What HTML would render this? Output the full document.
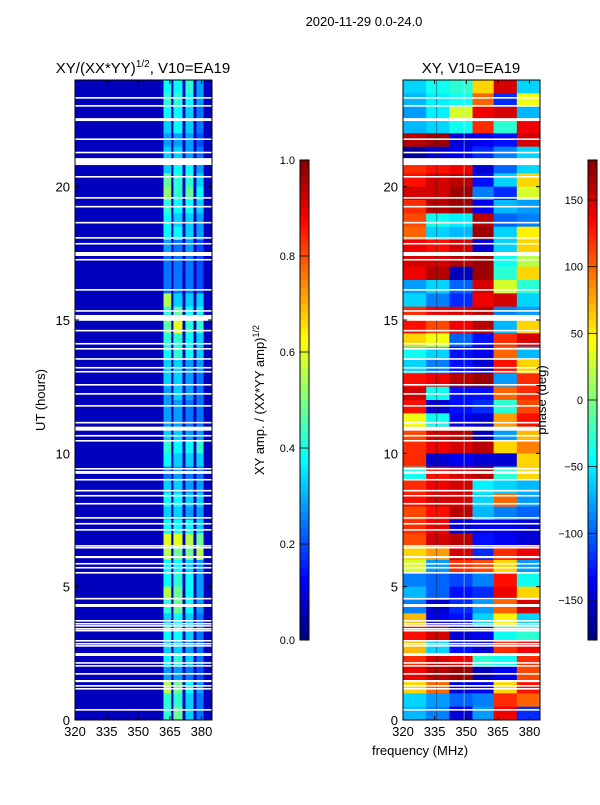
<!DOCTYPE html>
<html><head><meta charset="utf-8"><style>
body{margin:0;background:#fff;}
svg text{font-family:"Liberation Sans",sans-serif;}
</style></head><body>
<svg id="fig" width="600" height="800" xmlns="http://www.w3.org/2000/svg">
<text x="364" y="26" font-size="13" text-anchor="middle">2020-11-29 0.0-24.0</text>
<text x="143" y="73" font-size="15" text-anchor="middle">XY/(XX*YY)<tspan font-size="10" dy="-6">1/2</tspan><tspan dy="6">, V10=EA19</tspan></text>
<text x="471" y="73" font-size="15" text-anchor="middle">XY, V10=EA19</text>
<text transform="translate(45,400) rotate(-90)" font-size="13" text-anchor="middle">UT (hours)</text>
<text x="420" y="755" font-size="13" text-anchor="middle">frequency (MHz)</text>
<text transform="translate(264,400) rotate(-90)" font-size="13" text-anchor="middle">XY amp. / (XX*YY amp)<tspan font-size="9" dy="-5">1/2</tspan></text>
<g id="left"></g>
<g id="right"></g>
<g id="cb1"></g>
<g id="cb2"></g>
<text transform="translate(546,400) rotate(-90)" font-size="13" text-anchor="middle">phase (deg)</text>
</svg>
<script>
const freqMin=320, freqMax=385, utMin=0, utMax=24;
const xTicks=[320,335,350,365,380];
const yTicks=[0,5,10,15,20];
const ampTicks=[0.0,0.2,0.4,0.6,0.8,1.0];
const phaseTicks=[-150,-100,-50,0,50,100,150];
const ampBackground=0.06;
const ampStripEdges=[[362,365.7],[366.7,371],[372.4,376.2],[377.6,381]];
// amplitude per 0.5 h row, top (23.5-24 UT) downward, 4 strips
const ampRows=[
[0.38,0.38,0.42,0.28],[0.42,0.42,0.38,0.28],[0.38,0.38,0.33,0.24],[0.33,0.38,0.33,0.24],
[0.28,0.28,0.28,0.2],[0.33,0.33,0.28,0.24],[0.33,0.38,0.38,0.28],[0.47,0.42,0.42,0.33],
[0.52,0.42,0.47,0.38],[0.42,0.38,0.38,0.33],[0.38,0.33,0.33,0.28],[0.38,0.38,0.33,0.28],
[0.28,0.24,0.28,0.2],[0.24,0.24,0.24,0.2],[0.24,0.24,0.24,0.2],[0.24,0.24,0.24,0.2],
[0.55,0.33,0.33,0.33],[0.42,0.47,0.38,0.38],[0.47,0.6,0.42,0.42],[0.42,0.42,0.38,0.33],
[0.38,0.42,0.38,0.33],[0.33,0.33,0.28,0.28],[0.33,0.33,0.28,0.24],[0.28,0.33,0.28,0.24],
[0.28,0.28,0.24,0.24],[0.28,0.28,0.24,0.24],[0.33,0.33,0.28,0.28],[0.42,0.38,0.38,0.42],
[0.38,0.33,0.33,0.33],[0.24,0.28,0.24,0.24],[0.33,0.33,0.28,0.28],[0.38,0.38,0.33,0.33],
[0.33,0.33,0.28,0.28],[0.38,0.38,0.38,0.33],[0.6,0.6,0.55,0.48],[0.55,0.48,0.48,0.55],
[0.38,0.38,0.33,0.28],[0.38,0.42,0.38,0.28],[0.55,0.48,0.38,0.28],[0.42,0.48,0.38,0.28],
[0.33,0.38,0.33,0.24],[0.38,0.38,0.33,0.24],[0.33,0.33,0.28,0.24],[0.38,0.42,0.33,0.24],
[0.28,0.28,0.24,0.2],[0.55,0.48,0.38,0.28],[0.42,0.42,0.33,0.24],[0.42,0.48,0.33,0.24]];
const phaseColEdges=[320,331,342,353,363,374,385];
// phase per 0.5 h row, top (23.5-24 UT) downward
const phaseRows=[
[-60,-40,-30,60,150,-60],[-70,-50,-40,100,-120,40],[-80,-50,30,140,150,-70],[-70,-60,-40,120,-30,140],
[160,170,-150,-140,-130,150],[-170,-150,-140,-120,-90,-60],[120,130,140,-150,-100,-60],[130,150,160,-130,-60,60],
[150,150,170,-90,-120,30],[120,160,170,-140,-70,-80],[110,-40,-50,160,-100,-90],[100,-60,-70,170,-60,50],
[140,130,150,-150,-60,60],[150,150,160,170,-40,20],[140,160,-160,170,-30,60],[-80,-60,-100,150,30,-30],
[-60,-90,-120,140,150,-60],[120,140,150,160,-90,-80],[130,110,140,160,-70,60],[60,40,-100,-130,120,150],
[-40,-60,-130,-140,100,-70],[-60,-90,-130,-150,130,60],[130,140,160,170,-80,120],[150,-40,-130,-130,100,120],
[130,-150,-130,-120,-30,110],[40,-40,-140,-150,80,130],[110,150,160,-160,-80,70],[120,140,150,160,60,90],
[120,-150,-140,-150,-150,60],[-40,130,150,160,-30,60],[120,140,150,-50,-60,-70],[130,150,150,-60,100,-80],
[110,130,160,-70,-90,-100],[120,140,-150,-140,-140,-150],[110,150,160,-130,-140,-150],[60,80,150,-120,120,140],
[30,-80,120,110,60,-80],[-90,-100,-110,-90,130,-40],[-70,-100,-130,-120,140,60],[-90,-150,-120,-80,100,150],
[70,-140,-130,-60,50,-60],[130,150,-150,-140,-40,-30],[70,-60,-130,-150,120,140],[120,150,140,-30,-40,120],
[140,160,170,-160,-140,110],[60,100,-150,-140,60,130],[-60,-80,-100,-90,120,100],[-70,-90,-150,-80,140,-120]];
// flagged gaps: top UT and thickness (hours)
const gapTop=[23.36,23.06,22.57,21.81,21.31,21.07,20.4,19.61,19.28,18.68,18.11,17.89,17.55,17.29,16.16,15.37,15.19,14.63,14.14,13.95,13.57,13.24,13.09,12.6,12.26,11.81,11.18,11.0,10.69,10.5,9.45,9.34,9.04,8.63,8.44,8.14,7.61,7.39,7.16,6.56,6.49,6.15,5.89,5.74,5.55,4.58,4.35,3.75,3.64,3.56,3.45,3.38,3.0,2.89,2.81,2.51,2.17,2.06,1.76,1.5,1.31,1.2,0.41];
const gapLen=[0.06,0.06,0.11,0.06,0.06,0.26,0.06,0.06,0.06,0.06,0.06,0.06,0.15,0.06,0.06,0.06,0.22,0.06,0.06,0.06,0.06,0.06,0.06,0.06,0.06,0.06,0.06,0.15,0.06,0.06,0.06,0.11,0.06,0.06,0.06,0.06,0.06,0.06,0.06,0.06,0.06,0.08,0.06,0.06,0.06,0.06,0.11,0.06,0.06,0.06,0.06,0.06,0.06,0.06,0.06,0.11,0.06,0.06,0.06,0.08,0.06,0.06,0.06];

const NS="http://www.w3.org/2000/svg";
function jet(v){v=Math.max(0,Math.min(1,v));
 const f=t=>Math.max(0,Math.min(1,t));
 const r=f(1.5-Math.abs(4*v-3)),g=f(1.5-Math.abs(4*v-2)),b=f(1.5-Math.abs(4*v-1));
 return `rgb(${Math.round(r*255)},${Math.round(g*255)},${Math.round(b*255)})`;}
function mk(parent,tag,attrs){const e=document.createElementNS(NS,tag);for(const k in attrs)e.setAttribute(k,attrs[k]);parent.appendChild(e);return e;}
function axes(x0,x1,y0,y1){
 return {x:f=>x0+(f-freqMin)/(freqMax-freqMin)*(x1-x0), y:u=>y1-(u-utMin)/(utMax-utMin)*(y1-y0), x0,x1,y0,y1};}
const A=axes(75,212,80,720), B=axes(403,540,80,720);
const rowH=0.5;

function frame(g,ax){
 for(let i=0;i<gapTop.length;i++){
  const r=mk(g,'rect',{x:ax.x0,y:ax.y(gapTop[i]),width:ax.x1-ax.x0,height:Math.max(1.3,ax.y(gapTop[i]-gapLen[i])-ax.y(gapTop[i])),fill:'#fff'});
  
  
 }
 const b=mk(g,'rect',{x:ax.x0,y:ax.y0,width:ax.x1-ax.x0,height:ax.y1-ax.y0,fill:'none',stroke:'#000','stroke-width':1});
 
 
 xTicks.forEach(t=>{const X=ax.x(t);
  mk(g,'line',{x1:X,x2:X,y1:ax.y1,y2:ax.y1-4,stroke:'#000'});
  mk(g,'line',{x1:X,x2:X,y1:ax.y0,y2:ax.y0+4,stroke:'#000'});
  const tx=mk(g,'text',{x:X,y:ax.y1+16,'font-size':13,'text-anchor':'middle'});tx.textContent=t;
  
  });
 yTicks.forEach(t=>{const Y=ax.y(t);
  mk(g,'line',{x1:ax.x0,x2:ax.x0+4,y1:Y,y2:Y,stroke:'#000'});
  mk(g,'line',{x1:ax.x1,x2:ax.x1-4,y1:Y,y2:Y,stroke:'#000'});
  const tx=mk(g,'text',{x:ax.x0-5,y:Y+5,'font-size':13,'text-anchor':'end'});tx.textContent=t;
  
  });
}
// left heatmap
const gL=document.getElementById('left');
const bg=mk(gL,'rect',{x:A.x0,y:A.y0,width:A.x1-A.x0,height:A.y1-A.y0,fill:jet(ampBackground)});


ampRows.forEach((row,i)=>{const top=utMax-i*rowH;
 row.forEach((v,j)=>{const e=ampStripEdges[j];
  const c=mk(gL,'rect',{x:A.x(e[0]),y:A.y(top),width:A.x(e[1])-A.x(e[0]),height:A.y(top-rowH)-A.y(top)+0.3,fill:jet(v)});
  
  });});
frame(gL,A);
// right heatmap
const gR=document.getElementById('right');
phaseRows.forEach((row,i)=>{const top=utMax-i*rowH;
 row.forEach((v,j)=>{
  const c=mk(gR,'rect',{x:B.x(phaseColEdges[j]),y:B.y(top),width:B.x(phaseColEdges[j+1])-B.x(phaseColEdges[j])+0.3,height:B.y(top-rowH)-B.y(top)+0.3,fill:jet((v+180)/360)});
  
  });});
mk(gR,'line',{x1:B.x(336),x2:B.x(336),y1:80,y2:720,stroke:'#222','stroke-width':0.8,opacity:0.6});
mk(gR,'line',{x1:B.x(349),x2:B.x(349),y1:80,y2:720,stroke:'#cfe','stroke-width':0.8,opacity:0.6});
frame(gR,B);
// colorbars
function colorbar(id,x,vmin,vmax,ticks,fmt){
 const g=document.getElementById(id);const y0=160,y1=640,w=9;
 for(let i=0;i<120;i++){const v=1-(i+0.5)/120;
  mk(g,'rect',{x:x,y:y0+i*(y1-y0)/120,width:w,height:(y1-y0)/120+0.5,fill:jet(v)});}
 mk(g,'rect',{x:x,y:y0,width:w,height:y1-y0,fill:'none',stroke:'#000'});
 ticks.forEach(t=>{const Y=y1-(t-vmin)/(vmax-vmin)*(y1-y0);
  mk(g,'line',{x1:x,x2:x+w,y1:Y,y2:Y,stroke:'#000','stroke-width':0.8});
  const tx=mk(g,'text',{x:x-5,y:Y+4,'font-size':11,'text-anchor':'end'});tx.textContent=fmt(t);
  
  });
}
colorbar('cb1',300,0,1,ampTicks,t=>t.toFixed(1));
colorbar('cb2',588,-180,180,phaseTicks,t=>t<0?'\u2212'+(-t):''+t);
</script>
</body></html>
